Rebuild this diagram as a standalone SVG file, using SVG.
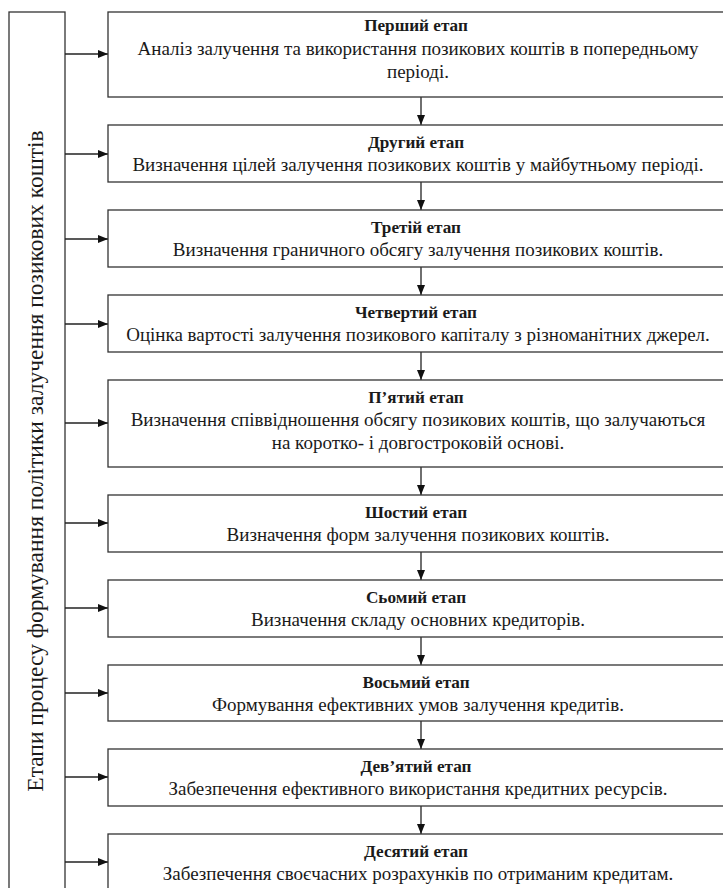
<svg xmlns="http://www.w3.org/2000/svg" width="723" height="888" viewBox="0 0 723 888">
<style>
.box{fill:#fff;stroke:#333;stroke-width:1.3}
.ln{stroke:#222;stroke-width:1.3;fill:none}
text{font-family:'Liberation Serif','Times New Roman',serif;font-size:19px;fill:#1a1a1a;text-anchor:middle}
.t{font-weight:bold;font-size:17.2px}
.side{font-size:23.5px}
</style>
<defs>
<marker id="ah" viewBox="0 0 10 8" refX="10" refY="4" markerWidth="10" markerHeight="8" markerUnits="userSpaceOnUse" orient="auto">
<path d="M0,0L10,4L0,8Z" fill="#111"/>
</marker>
</defs>
<g id="side">
<rect class="box" x="9" y="12" width="56" height="890"/>
<text class="side" transform="translate(43,461) rotate(-90)">Етапи процесу формування політики залучення позикових коштів</text>
</g>
<g id="connectors">
<line class="ln" x1="65" y1="54" x2="108" y2="54" marker-end="url(#ah)"/>
<line class="ln" x1="65" y1="154" x2="108" y2="154" marker-end="url(#ah)"/>
<line class="ln" x1="65" y1="239" x2="108" y2="239" marker-end="url(#ah)"/>
<line class="ln" x1="65" y1="324" x2="108" y2="324" marker-end="url(#ah)"/>
<line class="ln" x1="65" y1="423" x2="108" y2="423" marker-end="url(#ah)"/>
<line class="ln" x1="65" y1="523" x2="108" y2="523" marker-end="url(#ah)"/>
<line class="ln" x1="65" y1="608" x2="108" y2="608" marker-end="url(#ah)"/>
<line class="ln" x1="65" y1="693" x2="108" y2="693" marker-end="url(#ah)"/>
<line class="ln" x1="65" y1="777" x2="108" y2="777" marker-end="url(#ah)"/>
<line class="ln" x1="65" y1="862" x2="108" y2="862" marker-end="url(#ah)"/>
<line class="ln" x1="421" y1="97" x2="421" y2="125" marker-end="url(#ah)"/>
<line class="ln" x1="421" y1="182" x2="421" y2="210" marker-end="url(#ah)"/>
<line class="ln" x1="421" y1="267" x2="421" y2="295" marker-end="url(#ah)"/>
<line class="ln" x1="421" y1="352" x2="421" y2="380" marker-end="url(#ah)"/>
<line class="ln" x1="421" y1="467" x2="421" y2="495" marker-end="url(#ah)"/>
<line class="ln" x1="421" y1="552" x2="421" y2="580" marker-end="url(#ah)"/>
<line class="ln" x1="421" y1="637" x2="421" y2="665" marker-end="url(#ah)"/>
<line class="ln" x1="421" y1="721" x2="421" y2="749" marker-end="url(#ah)"/>
<line class="ln" x1="421" y1="806" x2="421" y2="834" marker-end="url(#ah)"/>
</g>
<g id="stage1">
<rect class="box" x="108" y="12" width="630" height="85"/>
<text class="t" x="416" y="31">Перший етап</text>
<text x="418" y="55">Аналіз залучення та  використання позикових коштів в попередньому</text>
<text x="418" y="78">періоді.</text>
</g>
<g id="stage2">
<rect class="box" x="108" y="125" width="630" height="57"/>
<text class="t" x="416" y="148">Другий етап</text>
<text x="418" y="171">Визначення цілей залучення позикових коштів у майбутньому періоді.</text>
</g>
<g id="stage3">
<rect class="box" x="108" y="210" width="630" height="57"/>
<text class="t" x="416" y="233">Третій етап</text>
<text x="418" y="256">Визначення граничного обсягу залучення  позикових коштів.</text>
</g>
<g id="stage4">
<rect class="box" x="108" y="295" width="630" height="57"/>
<text class="t" x="416" y="318">Четвертий етап</text>
<text x="418" y="341">Оцінка вартості залучення позикового капіталу з різноманітних джерел.</text>
</g>
<g id="stage5">
<rect class="box" x="108" y="380" width="630" height="87"/>
<text class="t" x="416" y="403">П’ятий етап</text>
<text x="418" y="426">Визначення співвідношення обсягу позикових коштів, що залучаються</text>
<text x="418" y="449">на коротко- і довгостроковій основі.</text>
</g>
<g id="stage6">
<rect class="box" x="108" y="495" width="630" height="57"/>
<text class="t" x="416" y="518">Шостий етап</text>
<text x="418" y="541">Визначення форм залучення позикових коштів.</text>
</g>
<g id="stage7">
<rect class="box" x="108" y="580" width="630" height="57"/>
<text class="t" x="416" y="603">Сьомий етап</text>
<text x="418" y="626">Визначення складу основних кредиторів.</text>
</g>
<g id="stage8">
<rect class="box" x="108" y="665" width="630" height="56"/>
<text class="t" x="416" y="688">Восьмий етап</text>
<text x="418" y="711">Формування ефективних умов залучення кредитів.</text>
</g>
<g id="stage9">
<rect class="box" x="108" y="749" width="630" height="57"/>
<text class="t" x="416" y="772">Дев’ятий етап</text>
<text x="418" y="795">Забезпечення ефективного використання кредитних ресурсів.</text>
</g>
<g id="stage10">
<rect class="box" x="108" y="834" width="630" height="70"/>
<text class="t" x="416" y="857">Десятий етап</text>
<text x="418" y="880">Забезпечення своєчасних розрахунків по отриманим кредитам.</text>
</g>
</svg>
